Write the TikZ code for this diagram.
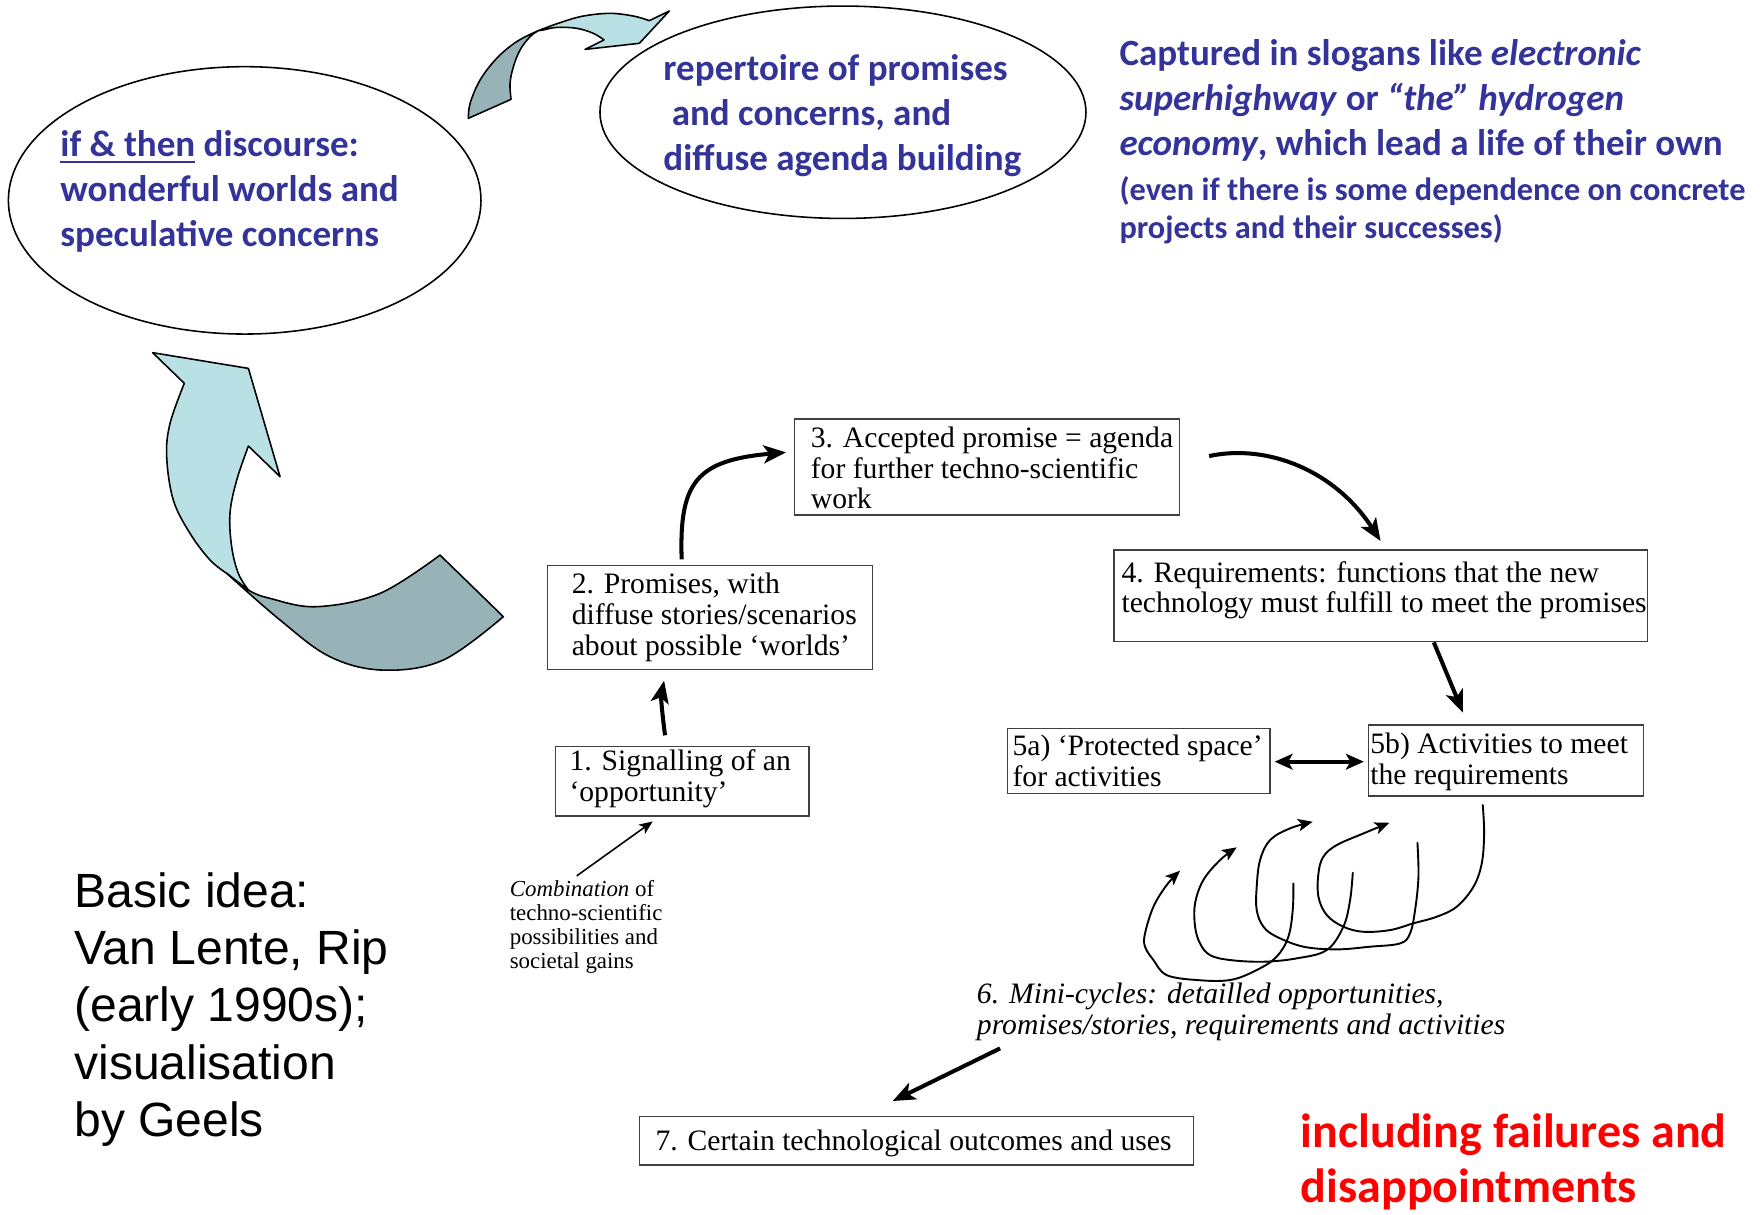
\documentclass[tikz,border=0pt]{standalone}
\usepackage{fontspec}
\usetikzlibrary{arrows.meta,calc,shapes.geometric}
\newfontfamily\tms{Liberation Serif}
\newfontfamily\lsans{Liberation Sans}
\newfontfamily\carl{Carlito}
\definecolor{slogan}{RGB}{51,51,153}
\definecolor{ribbonlight}{RGB}{185,224,228}
\definecolor{ribbondark}{RGB}{151,179,183}
\definecolor{alertred}{RGB}{255,0,0}
\newsavebox\ulbox
\newcommand\ulbar[1]{\sbox\ulbox{#1}\rlap{\rule[-3pt]{\wd\ulbox}{1pt}}\usebox\ulbox}
% invisible prop that fixes the height of a text block's first line
\newlength\liftht
\newcommand\lift{\vrule width 0pt height\liftht\relax}

\begin{document}
\begin{tikzpicture}[x=0.5pt,y=-0.5pt,
  stepbox/.style={draw=black!75, line width=0.6pt, rectangle, inner sep=0pt},
  bubble/.style={draw=black, line width=0.7pt, ellipse, inner sep=0pt},
  % text blocks are placed by the baseline of their first line
  basetext/.style={anchor=north west, inner sep=0pt, align=left, yshift=#1,
    execute at begin node={\setlength\liftht{#1}}},
  boxtext/.style={basetext=11pt, font=\tms\fontsize{13.2}{13.75}\selectfont},
  minitext/.style={basetext=11pt, font=\tms\itshape\fontsize{13.2}{13.75}\selectfont},
  smalltext/.style={basetext=9pt, font=\tms\fontsize{10.2}{10.75}\selectfont},
  bluetext/.style={basetext=15pt, text=slogan, font=\carl\bfseries\fontsize{16.5}{20}\selectfont},
  bluesmall/.style={basetext=13pt, text=slogan, font=\carl\bfseries\fontsize{14.4}{17}\selectfont},
  sanstext/.style={basetext=19pt, font=\lsans\fontsize{21.4}{25.5}\selectfont},
  redtext/.style={basetext=19pt, text=alertred, font=\carl\bfseries\fontsize{21.4}{24.5}\selectfont},
  ribbon/.style={draw=black, line width=0.7pt, line join=round},
  thickarrow/.style={line width=1.8pt, -{Stealth[length=10pt,width=8pt,inset=2.5pt]}},
  twoway/.style={line width=1.8pt, {Stealth[length=8pt,width=7pt,inset=2pt]}-{Stealth[length=8pt,width=7pt,inset=2pt]}},
  thinarrow/.style={line width=0.7pt, -{Stealth[length=6pt,width=5pt,inset=1.5pt]}},
  minicycle/.style={line width=0.85pt, line cap=round, -{Stealth[length=6.5pt,width=5.5pt,inset=1.5pt]}}
]
\fill[white] (0,0) rectangle (1568,1082);
\useasboundingbox (0,0) rectangle (1568,1082);

% discourse bubbles
\node[bubble, minimum width=210.5pt, minimum height=119.1pt] (eleft) at (218,178.5) {};
\node[bubble, minimum width=216.5pt, minimum height=94.6pt] (etop) at (751,100) {};
\node[bluetext] (tleft) at (53.4,139) {\lift\ulbar{if \& then} discourse:\\wonderful worlds and\\speculative concerns};
\node[bluetext] (ttop) at (590.7,71.3) {\lift repertoire of promises\\\hspace*{3.7pt}and concerns, and\\diffuse agenda building};

% slogans
\node[bluetext] (ts1) at (997,57.9) {\lift Captured in slogans like \textit{electronic}\\\textit{superhighway} or \textit{“the” hydrogen}\\\textit{economy}, which lead a life of their own};
\node[bluesmall] (ts2) at (997,178.2) {\lift(even if there is some dependence on concrete\\projects and their successes)};

% small ribbon arrow between the bubbles
\filldraw[ribbon, fill=ribbondark] (417.3,105.4)
  -- plot[smooth,tension=0.6] coordinates {(417.3,105.4) (418.8,92.1) (427.7,71.3) (442.5,52.0) (460.3,37.1) (479.6,27.3)}
  -- plot[smooth,tension=0.6] coordinates {(479.6,27.3) (472.2,32.7) (463.3,44.5) (457.4,59.4) (454.4,74.2) (455.3,88.5)}
  -- cycle;
\filldraw[ribbon, fill=ribbonlight] plot[smooth,tension=0.6] coordinates {(479.6,27.3) (498.9,20.2) (519.7,14.3) (543.5,11.9) (564.3,14.3) (578.5,18.4)}
  -- (596.3,9.8) -- (569.6,38.6) -- (521.2,44.0) -- (538.1,35.6)
  -- plot[smooth,tension=0.6] coordinates {(538.1,35.6) (528.6,29.7) (513.8,25.2) (496.0,24.4) (484.1,26.7) (479.6,27.3)}
  -- cycle;

% large ribbon arrow rising to the left bubble
\filldraw[ribbon, fill=ribbonlight] (136,314.2) -- (221.3,328.2) -- (249.5,424.7) -- (221.3,397.4)
  -- plot[smooth,tension=0.6] coordinates {(221.3,397.4) (210.9,427.7) (204.9,457.3) (206.4,487.1) (212.3,510.8) (221.3,525.7)}
  -- (202,510.8)
  -- plot[smooth,tension=0.6] coordinates {(202,510.8) (187.1,498.9) (169.3,475.2) (154.4,445.5) (148.5,406.9) (151.5,377.2) (164.2,341.5)}
  -- cycle;
\filldraw[ribbon, fill=ribbondark] plot[smooth,tension=0.6] coordinates {(202,510.8) (249.5,552.4) (294,585.1) (341.5,597) (395,588) (448.4,549.4)}
  -- (392,494.5)
  -- plot[smooth,tension=0.6] coordinates {(392,494.5) (338.6,528.6) (282.1,540.5) (240.6,533.1) (221.3,525.7) (202,510.8)}
  -- cycle;

% process boxes
\node[stepbox, minimum width=171.45pt, minimum height=42.75pt] (b3) at (879.25,416.05) {};
\node[stepbox, minimum width=144.75pt, minimum height=46.15pt] (b2) at (632.65,550.15) {};
\node[stepbox, minimum width=112.8pt, minimum height=30.9pt] (b1) at (607.8,696.1) {};
\node[stepbox, minimum width=237.55pt, minimum height=40.85pt] (b4) at (1229.95,530.85) {};
\node[stepbox, minimum width=117.05pt, minimum height=28.95pt] (b5a) at (1014.45,677.85) {};
\node[stepbox, minimum width=122.45pt, minimum height=31.6pt] (b5b) at (1341.65,677.6) {};
\node[stepbox, minimum width=246.7pt, minimum height=21.55pt] (b7) at (816.3,1016.45) {};

\node[boxtext] (t3) at (722,398) {\lift 3. Accepted promise = agenda\\for further techno-scientific\\work};
\node[boxtext] (t2) at (509,528.6) {\lift 2. Promises, with\\diffuse stories/scenarios\\about possible ‘worlds’};
\node[boxtext] (t1) at (507,686) {\lift 1. Signalling of an\\‘opportunity’};
\node[boxtext] (t4) at (998.8,518.2) {\lift 4. Requirements: functions that the new\\technology must fulfill to meet the promises};
\node[boxtext] (t5a) at (901.7,672.5) {\lift 5a) ‘Protected space’\\for activities};
\node[boxtext] (t5b) at (1220.5,670.6) {\lift 5b) Activities to meet\\the requirements};
\node[boxtext] (t7) at (583.6,1024.6) {\lift 7. Certain technological outcomes and uses};

\node[smalltext] (tcomb) at (453.8,798.3) {\lift\textit{Combination} of\\techno-scientific\\possibilities and\\societal gains};
\node[minitext] (t6) at (870,894) {\lift 6. Mini-cycles: detailled opportunities,\\promises/stories, requirements and activities};

\node[sanstext] (tbasic) at (65.9,808) {\lift Basic idea:\\Van Lente, Rip\\(early 1990s);\\visualisation\\by Geels};
\node[redtext] (tred) at (1158.5,1021.6) {\lift including failures and\\disappointments};

% connectors of the cycle
\draw[thickarrow] ($(b1.north)+(-15.3,-9.5)$) .. controls +(-2,-15) and +(-3,15) .. ($(b2.south)+(-41,9.5)$);
\draw[thickarrow] ($(b2.north)+(-25.35,-5.1)$) .. controls (605,430) and (620,410) .. ($(b3.west)+(-6.9,-13.05)$);
\draw[thickarrow] ($(b3.east)+(25.9,-9.75)$) .. controls (1130,395) and (1190,420) .. ($(b4.north)+(0,-7.4)$);
\draw[thickarrow] ($(b4.south)+(47.45,0)$) -- ($(b5b.north)+(-38.25,-10.5)$);
\draw[twoway] ($(b5a.east)+(3.5,0.75)$) -- ($(b5b.west)+(-3.5,1)$);
\draw[thinarrow] ($(tcomb.north west)+(60,0)$) -- ($(b1.south)+(-26.3,4.2)$);
\draw[thickarrow] ($(t6.north west)+(21,62)$) -- ($(b7.north)+(-21,-13.4)$);

% mini-cycles
\draw[minicycle] plot[smooth,tension=0.6] coordinates {(1152.3,787.0) (1151.7,810.8) (1147.8,834.5) (1137.4,852.3) (1119.6,864.2) (1095.9,873.1) (1066.2,873.1) (1039.4,868.7) (1027.6,855.3) (1020.1,843.4) (1020.1,831.6) (1027.6,807.8) (1039.4,788.5) (1051.3,775.7)};
\draw[minicycle] plot[smooth,tension=0.6] coordinates {(1205.2,777.5) (1202.8,801.9) (1196.8,825.6) (1182.0,846.4) (1155.3,853.8) (1125.6,856.8) (1095.9,855.3) (1078.0,850.9) (1069.1,840.5) (1064.7,825.6) (1064.7,804.8) (1072.1,784.0) (1087.0,766.2) (1101.8,754.9)};
\draw[minicycle] plot[smooth,tension=0.6] coordinates {(1262.8,750.8) (1263.7,781.1) (1260.7,810.8) (1256.2,831.6) (1247.3,840.5) (1220.6,843.4) (1190.9,845.8) (1161.2,843.4) (1137.4,834.5) (1125.6,825.6) (1119.6,810.8) (1119.6,790.0) (1122.6,766.2) (1131.5,748.4) (1149.3,738.0) (1169.5,732.1)};
\draw[minicycle] plot[smooth,tension=0.6] coordinates {(1321.0,717.2) (1322.2,742.5) (1320.1,769.2) (1312.7,790.0) (1297.8,807.8) (1280.0,816.7) (1259.2,822.6) (1238.4,828.6) (1214.7,830.1) (1196.8,825.6) (1182.0,815.2) (1174.6,798.9) (1174.6,778.1) (1179.0,763.2) (1190.9,752.9) (1214.7,742.5) (1237.8,733.0)};
\end{tikzpicture}
\end{document}
